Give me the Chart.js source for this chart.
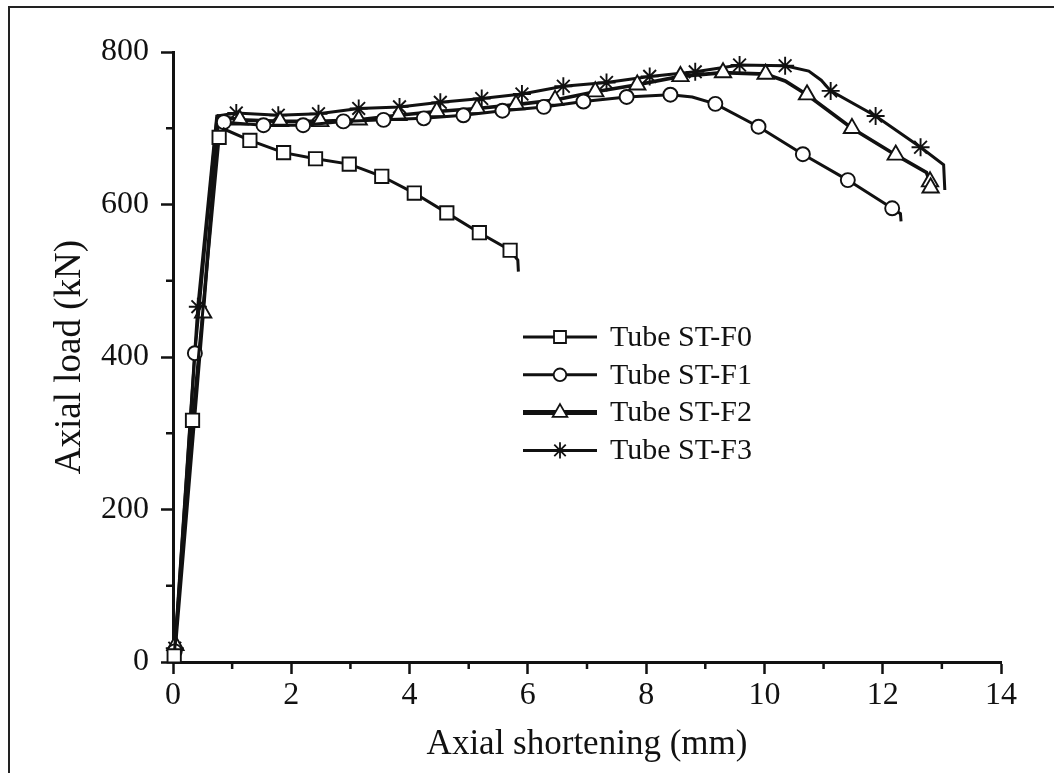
<!DOCTYPE html>
<html>
<head>
<meta charset="utf-8">
<script src="https://cdn.jsdelivr.net/npm/chart.js@4/dist/chart.umd.min.js"></script>
<style>
html, body { margin: 0; padding: 0; background: #fff; }
#wrap { position: relative; width: 1054px; height: 773px; overflow: hidden; }
#chart { position: absolute; left: 0; top: 0; }
#frame { position: absolute; left: 8px; top: 6px; right: 0; bottom: 0; border-top: 2px solid #222; border-left: 2px solid #222; pointer-events: none; }
</style>
</head>
<body>
<div id="wrap">
  <canvas id="chart" width="1054" height="773"></canvas>
  <div id="frame"></div>
</div>
<script>
// подписи и оси
const seriesNames = ['Tube ST-F0', 'Tube ST-F1', 'Tube ST-F2', 'Tube ST-F3'];
const xTitle = 'Axial shortening (mm)';
const yTitle = 'Axial load (kN)';
const xTicks = [0, 2, 4, 6, 8, 10, 12, 14];
const yTicks = [0, 200, 400, 600, 800];

// F0 — точки с маркерами (квадраты) и изломы линии без маркеров
const f0X = [0.02, 0.33, 0.78, 1.30, 1.87, 2.41, 2.98, 3.53, 4.08, 4.63, 5.18, 5.70];
const f0Y = [8, 317, 688, 684, 668, 660, 653, 637, 615, 589, 563, 540];
const f0BendX = [0.86, 5.83, 5.84];
const f0BendY = [699, 527, 512];

// F1 — круги
const f1X = [0.03, 0.37, 0.86, 1.53, 2.20, 2.88, 3.56, 4.24, 4.91, 5.57, 6.27, 6.94, 7.67, 8.41, 9.17, 9.90, 10.65, 11.41, 12.16];
const f1Y = [14, 405, 708, 704, 704, 709, 711, 713, 717, 723, 728, 735, 741, 744, 732, 702, 666, 632, 595];
const f1BendX = [0.74, 8.78, 12.30, 12.31];
const f1BendY = [712, 741, 588, 578];

// F2 — треугольники
const f2X = [0.04, 0.51, 1.13, 1.81, 2.49, 3.14, 3.81, 4.46, 5.14, 5.80, 6.46, 7.14, 7.85, 8.58, 9.30, 10.02, 10.72, 11.48, 12.22, 12.80, 12.81];
const f2Y = [22, 458, 711, 709, 709, 711, 717, 722, 726, 731, 737, 748, 757, 768, 773, 771, 744, 700, 665, 630, 622];
const f2BendX = [0.77, 10.35, 12.74];
const f2BendY = [716, 762, 642];

// F3 — звёздочки
const f3X = [0.03, 0.42, 1.07, 1.78, 2.46, 3.14, 3.83, 4.52, 5.22, 5.90, 6.60, 7.33, 8.06, 8.83, 9.58, 10.35, 11.12, 11.88, 12.64];
const f3Y = [18, 466, 720, 717, 719, 726, 728, 734, 739, 745, 755, 760, 768, 774, 783, 782, 749, 716, 675];
const f3BendX = [0.74, 10.75, 10.96, 13.03, 13.05];
const f3BendY = [716, 775, 763, 652, 619];

const INK = '#111';
const FONT = '"Liberation Serif", "Times New Roman", serif';

const buildPoints = (mx, my, bx, by) => { // склеиваем маркеры и изломы в одну линию по x
    const pts = mx.map((x, i) => ({ x, y: my[i], m: true }));
    bx.forEach((x, i) => pts.push({ x, y: by[i], m: false }));
    return pts.sort((a, b) => a.x - b.x);
};

const series = [
    { data: buildPoints(f0X, f0Y, f0BendX, f0BendY), style: 'rect', size: 9.4, width: 3 },
    { data: buildPoints(f1X, f1Y, f1BendX, f1BendY), style: 'circle', size: 7, width: 3 },
    { data: buildPoints(f2X, f2Y, f2BendX, f2BendY), style: 'triangle', size: 9.4, width: 3.6 },
    { data: buildPoints(f3X, f3Y, f3BendX, f3BendY), style: 'star', size: 9, width: 3 },
];

const datasets = series.map((s, i) => ({
    label: seriesNames[i],
    data: s.data,
    borderColor: INK,
    borderWidth: s.width,
    tension: 0,
    pointStyle: s.style,
    markerSize: s.size,
    pointRadius: c => (c.raw && c.raw.m ? s.size : 0),
    pointHoverRadius: c => (c.raw && c.raw.m ? s.size : 0),
    pointBackgroundColor: '#fff',
    pointBorderColor: INK,
    pointBorderWidth: 1.9,
    clip: false,
}));

const minorTicks = { // короткие промежуточные засечки
    id: 'minorTicks',
    afterDraw(chart) {
        const { ctx, chartArea } = chart;
        const xs = chart.scales.x, ys = chart.scales.y;
        ctx.save();
        ctx.strokeStyle = INK;
        ctx.lineWidth = 2.5;
        ctx.beginPath();
        for (let v = 1; v < 14; v += 2) {
            const px = xs.getPixelForValue(v);
            ctx.moveTo(px, chartArea.bottom);
            ctx.lineTo(px, chartArea.bottom + 7);
        }
        for (let v = 100; v < 800; v += 200) {
            const py = ys.getPixelForValue(v);
            ctx.moveTo(chartArea.left - 7, py);
            ctx.lineTo(chartArea.left, py);
        }
        ctx.stroke();
        ctx.restore();
    },
};

const lineLegend = { // легенда: линия с маркером посередине
    id: 'lineLegend',
    afterDraw(chart) {
        const ctx = chart.ctx;
        chart.data.datasets.forEach((ds, i) => {
            const y = 337 + i * 37.8;
            ctx.save();
            ctx.strokeStyle = INK;
            ctx.lineWidth = i === 2 ? 5 : 3;
            ctx.beginPath();
            ctx.moveTo(523, y);
            ctx.lineTo(597, y);
            ctx.stroke();
            ctx.fillStyle = '#fff';
            ctx.lineWidth = 1.8;
            Chart.helpers.drawPoint(ctx, { pointStyle: ds.pointStyle, radius: ds.markerSize * 0.9, rotation: 0, borderWidth: 1.8 }, 560, y);
            ctx.fillStyle = INK;
            ctx.font = `30px ${FONT}`;
            ctx.textBaseline = 'middle';
            ctx.textAlign = 'left';
            ctx.fillText(ds.label, 610, y + 1);
            ctx.restore();
        });
    },
};

new Chart(document.getElementById('chart'), {
    type: 'line',
    data: { datasets },
    options: {
        responsive: false,
        animation: false,
        devicePixelRatio: 1,
        layout: { padding: { top: 52, right: 53, bottom: 4, left: 10 } },
        plugins: { legend: { display: false }, tooltip: { enabled: false } },
        scales: {
            x: {
                type: 'linear', min: 0, max: 14,
                afterFit: s => { s.height = 107; },
                afterBuildTicks: s => { s.ticks = xTicks.map(v => ({ value: v })); },
                ticks: { color: INK, padding: 2, font: { family: FONT, size: 32 } },
                grid: { drawOnChartArea: false, drawTicks: true, tickLength: 12, tickWidth: 2.5, tickColor: INK },
                border: { display: true, width: 3, color: INK },
                title: { display: true, text: xTitle, color: INK, padding: { top: 0, bottom: 3 }, font: { family: FONT, size: 35 } },
            },
            y: {
                type: 'linear', min: 0, max: 800,
                afterFit: s => { s.width = 163; },
                afterBuildTicks: s => { s.ticks = yTicks.map(v => ({ value: v })); },
                ticks: { color: INK, padding: 12, font: { family: FONT, size: 32 } },
                grid: { drawOnChartArea: false, drawTicks: true, tickLength: 12, tickWidth: 2.5, tickColor: INK },
                border: { display: true, width: 3, color: INK },
                title: { display: true, text: yTitle, color: INK, padding: { top: 38, bottom: 0 }, font: { family: FONT, size: 37 } },
            },
        },
    },
    plugins: [minorTicks, lineLegend],
});
</script>
</body>
</html>
